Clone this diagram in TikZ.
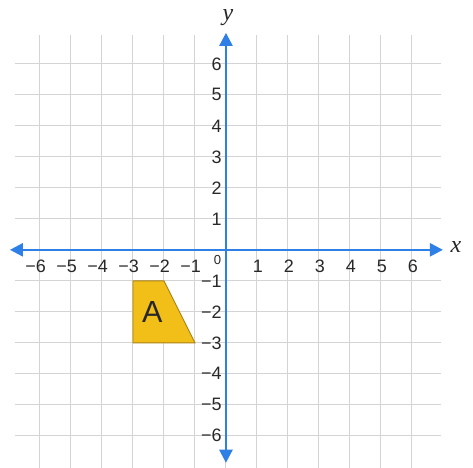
\documentclass[tikz,border=0pt]{standalone}
\usepackage{fontspec}
\setmainfont{Liberation Sans}
\newfontfamily\axisfont{Liberation Serif}
\usetikzlibrary{arrows.meta}
\definecolor{gridgray}{RGB}{212,212,212}
\definecolor{axisblue}{RGB}{47,128,230}
\definecolor{shapegold}{RGB}{242,190,24}
\definecolor{shapeedge}{RGB}{170,130,20}
\definecolor{labelgray}{RGB}{40,40,40}
\begin{document}
\begin{tikzpicture}[x=1cm,y=1cm,
  gridline/.style={draw=gridgray,line width=0.9pt},
  axisline/.style={draw=axisblue,line width=2.2pt,{Triangle[length=12pt,width=12pt]}-{Triangle[length=12pt,width=12pt]}},
  ticklbl/.style={font=\fontsize{16.5}{18}\selectfont,text=labelgray,inner sep=0pt},
  axislbl/.style={font=\axisfont\itshape\fontsize{22}{24}\selectfont,text=labelgray,inner sep=0pt}]
\path[fill=white,use as bounding box] (-7.29,-7.03) rectangle (7.97,8.06);
% grid
\foreach \i in {-6,...,6} {
  \draw[gridline] (\i,-7.03) -- (\i,6.94);
  \draw[gridline] (-6.8,\i) -- (6.95,\i);
}
% shape A
\draw[fill=shapegold,draw=shapeedge,line width=0.8pt] (-3,-1) -- (-2,-1) -- (-1,-3) -- (-3,-3) -- cycle;
\node[font=\fontsize{28}{30}\selectfont,text=labelgray] (A) at (-2.38,-2.02) {A};
% axes
\coordinate (xl) at (-6.97,0);
\coordinate (xr) at (7.0,0);
\coordinate (yb) at (0,-6.87);
\coordinate (yt) at (0,7.0);
\draw[axisline] (xl) -- (xr);
\draw[axisline] (yb) -- (yt);
\node[axislbl] (xlab) at (7.42,0.1) {x};
\node[axislbl] (ylab) at (0.06,7.5) {y};
% tick labels
\foreach \i in {1,...,6} {
  \node[ticklbl] (px\i) at (\i+0.03,-0.53) {\i};
  \node[ticklbl] (nx\i) at (-\i-0.14,-0.53) {−\i};
  \node[ticklbl,anchor=east] (py\i) at (-0.13,\i) {\i};
  \node[ticklbl,anchor=east] (ny\i) at (-0.13,-\i) {−\i};
}
\node[font=\fontsize{12}{14}\selectfont,text=labelgray,inner sep=0pt] (zero) at (-0.27,-0.33) {0};
\end{tikzpicture}
\end{document}
